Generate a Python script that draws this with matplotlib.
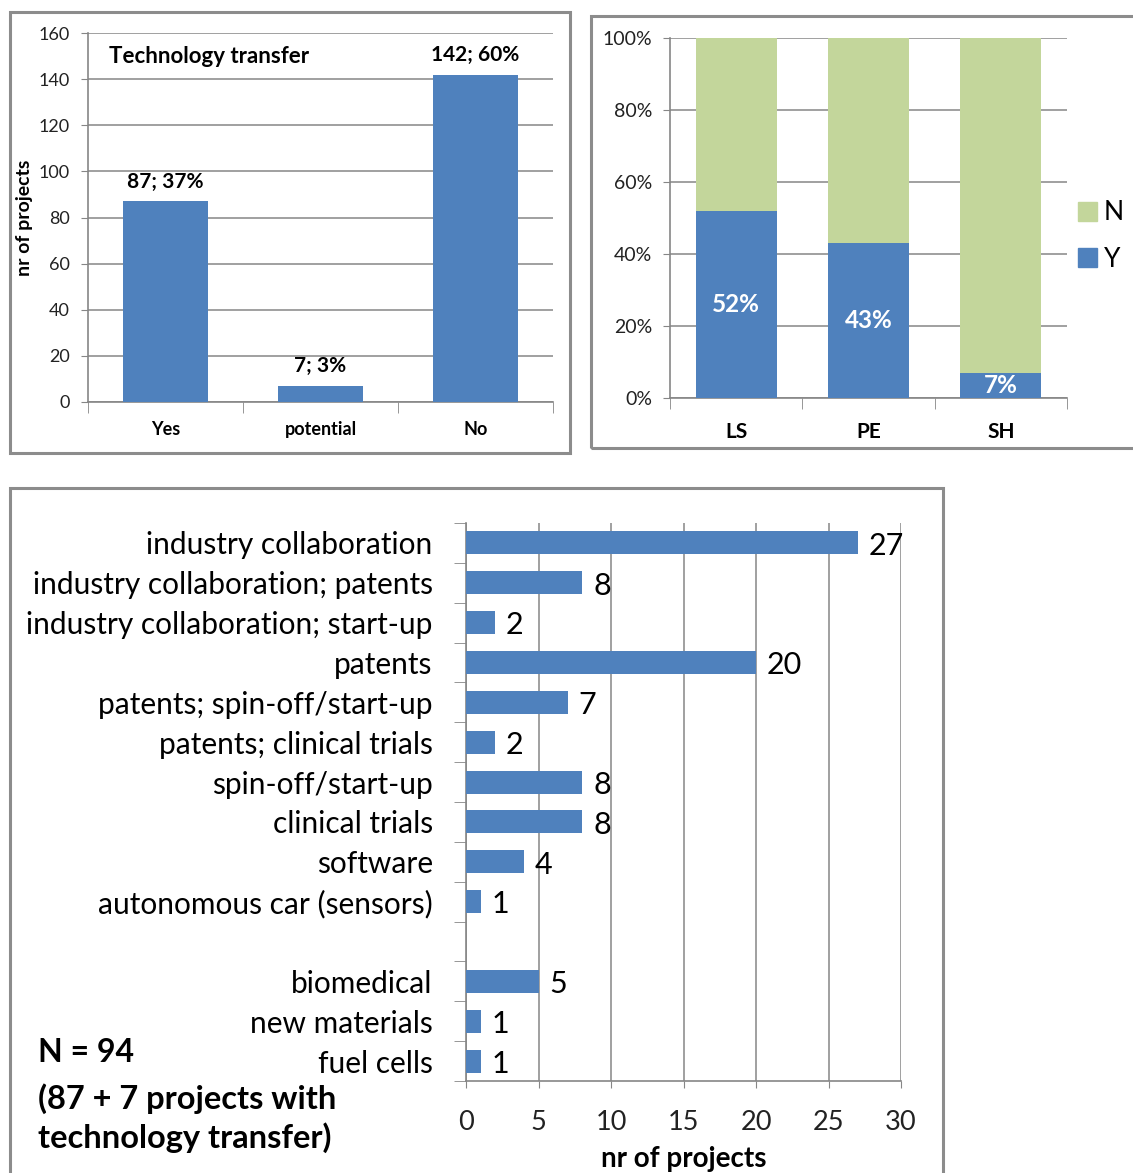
import numpy as np
import matplotlib
matplotlib.use("Agg")
import matplotlib.pyplot as plt
from matplotlib.patches import Rectangle, Patch

plt.rcParams['font.family'] = ['Lato', 'DejaVu Sans']

# ---- data ----
tt_cats = ["Yes", "potential", "No"]
tt_counts = [87, 7, 142]
tt_labels = ["87; 37%", "7; 3%", "142; 60%"]

dom_cats = ["LS", "PE", "SH"]
dom_yes = [52, 43, 7]
dom_no = [48, 57, 93]

kind_cats = ["industry collaboration", "industry collaboration; patents",
             "industry collaboration; start-up", "patents",
             "patents; spin-off/start-up", "patents; clinical trials",
             "spin-off/start-up", "clinical trials", "software",
             "autonomous car (sensors)", "", "biomedical", "new materials",
             "fuel cells"]
kind_counts = [27, 8, 2, 20, 7, 2, 8, 8, 4, 1, None, 5, 1, 1]

BLUE = "#4F81BD"
GREEN = "#C3D69B"
GRID = "#868686"
BORDER = "#8C8C8C"

W, H = 1133, 1173
fig = plt.figure(figsize=(W / 100, H / 100), dpi=100)


def box(l, t, r, b):
    return [l / W, 1 - b / H, (r - l) / W, (b - t) / H]


def frame(l, t, r, b):
    fig.patches.append(Rectangle((l / W, 1 - b / H), (r - l) / W, (b - t) / H,
                                 transform=fig.transFigure, fill=False,
                                 edgecolor=BORDER, linewidth=2.2))


def style_axes(ax):
    for s in ["top", "right"]:
        ax.spines[s].set_visible(False)
    for s in ["left", "bottom"]:
        ax.spines[s].set_color(GRID)
        ax.spines[s].set_linewidth(1.2)
    ax.set_axisbelow(True)


# ---- panel 1: technology transfer ----
frame(10, 12, 570, 453)
ax1 = fig.add_axes(box(88, 33, 553, 402))
style_axes(ax1)
x1 = np.arange(len(tt_cats))
ax1.bar(x1, tt_counts, width=0.55, color=BLUE, zorder=3)
ax1.set_xlim(-0.5, 2.5)
ax1.set_ylim(0, 160)
ax1.set_yticks(np.arange(0, 161, 20))
ax1.yaxis.grid(True, color=GRID, linewidth=1.1)
ax1.tick_params(axis="y", length=5, color=GRID, labelsize=13, pad=8,
                labelcolor="#222222")
ax1.set_xticks(x1)
ax1.set_xticklabels(tt_cats, fontsize=13, fontweight="bold")
ax1.set_xticks(np.arange(-0.5, 3, 1), minor=True)
ax1.tick_params(axis="x", which="major", length=0, pad=14)
ax1.tick_params(axis="x", which="minor", length=8, color=GRID)
ax1.set_ylabel("nr of projects", fontsize=14, fontweight="bold", labelpad=4)
for xi, v, lab in zip(x1, tt_counts, tt_labels):
    ax1.annotate(lab, (xi, v), xytext=(0, 7), textcoords="offset points",
                 ha="center", va="bottom", fontsize=15, fontweight="bold")
ax1.text(0.045, 0.935, "Technology transfer", transform=ax1.transAxes,
         fontsize=16, fontweight="bold", va="center", ha="left")

# ---- panel 2: share per domain ----
frame(591, 16, 1140, 448)
ax2 = fig.add_axes(box(670, 38, 1067, 398))
style_axes(ax2)
x2 = np.arange(len(dom_cats))
ax2.bar(x2, dom_yes, width=0.61, color=BLUE, zorder=3, label="Y")
ax2.bar(x2, dom_no, bottom=dom_yes, width=0.61, color=GREEN, zorder=3,
        label="N")
ax2.set_xlim(-0.5, 2.5)
ax2.set_ylim(0, 100)
ax2.set_yticks(np.arange(0, 101, 20))
ax2.set_yticklabels([f"{v}%" for v in range(0, 101, 20)])
ax2.yaxis.grid(True, color=GRID, linewidth=1.1)
ax2.tick_params(axis="y", length=5, color=GRID, labelsize=14, pad=8,
                labelcolor="#222222")
ax2.set_xticks(x2)
ax2.set_xticklabels(dom_cats, fontsize=15, fontweight="bold")
ax2.set_xticks(np.arange(-0.5, 3, 1), minor=True)
ax2.tick_params(axis="x", which="major", length=0, pad=17)
ax2.tick_params(axis="x", which="minor", length=8, color=GRID)
for xi, v in zip(x2, dom_yes):
    ax2.text(xi, v / 2, f"{v}%", ha="center", va="center", color="white",
             fontsize=17.5, fontweight="bold", zorder=4)
handles = [Patch(color=GREEN, label="N"), Patch(color=BLUE, label="Y")]
ax2.legend(handles=handles, loc="center left", bbox_to_anchor=(0.98, 0.45),
           frameon=False, fontsize=19, handlelength=0.75, handleheight=0.75,
           handletextpad=0.25, labelspacing=0.8, borderaxespad=0.3)

# ---- panel 3: kind of technology transfer ----
frame(10, 488, 943, 1190)
ax3 = fig.add_axes(box(466, 523, 901, 1081))
style_axes(ax3)
y3 = np.arange(len(kind_cats))
vals = [v if v is not None else 0 for v in kind_counts]
ax3.barh(y3, vals, height=0.58, color=BLUE, zorder=3)
ax3.set_ylim(len(kind_cats) - 0.5, -0.5)
ax3.set_xlim(0, 30)
ax3.set_xticks(np.arange(0, 31, 5))
ax3.xaxis.grid(True, color=GRID, linewidth=1.1)
ax3.tick_params(axis="x", length=5, color=GRID, labelsize=19.5, pad=16,
                labelcolor="#222222")
ax3.set_yticks(y3)
ax3.set_yticklabels(kind_cats, fontsize=21.5)
ax3.set_yticks(np.arange(-0.5, len(kind_cats), 1), minor=True)
ax3.tick_params(axis="y", which="major", length=0, pad=24)
ax3.tick_params(axis="y", which="minor", length=9, color=GRID)
ax3.set_xlabel("nr of projects", fontsize=20, fontweight="bold", labelpad=8)
for yi, v in zip(y3, kind_counts):
    if v is None:
        continue
    ax3.annotate(str(v), (v, yi), xytext=(8, -2), textcoords="offset points",
                 ha="left", va="center", fontsize=22)
fig.text(38 / W, 1 - 1052 / H, "N = 94", fontsize=23, fontweight="bold",
         va="center", ha="left")
fig.text(38 / W, 1 - 1118 / H, "(87 + 7 projects with\ntechnology transfer)",
         fontsize=23.5, fontweight="bold", va="center", ha="left",
         linespacing=1.3)

fig.savefig("out.png", dpi=100)
